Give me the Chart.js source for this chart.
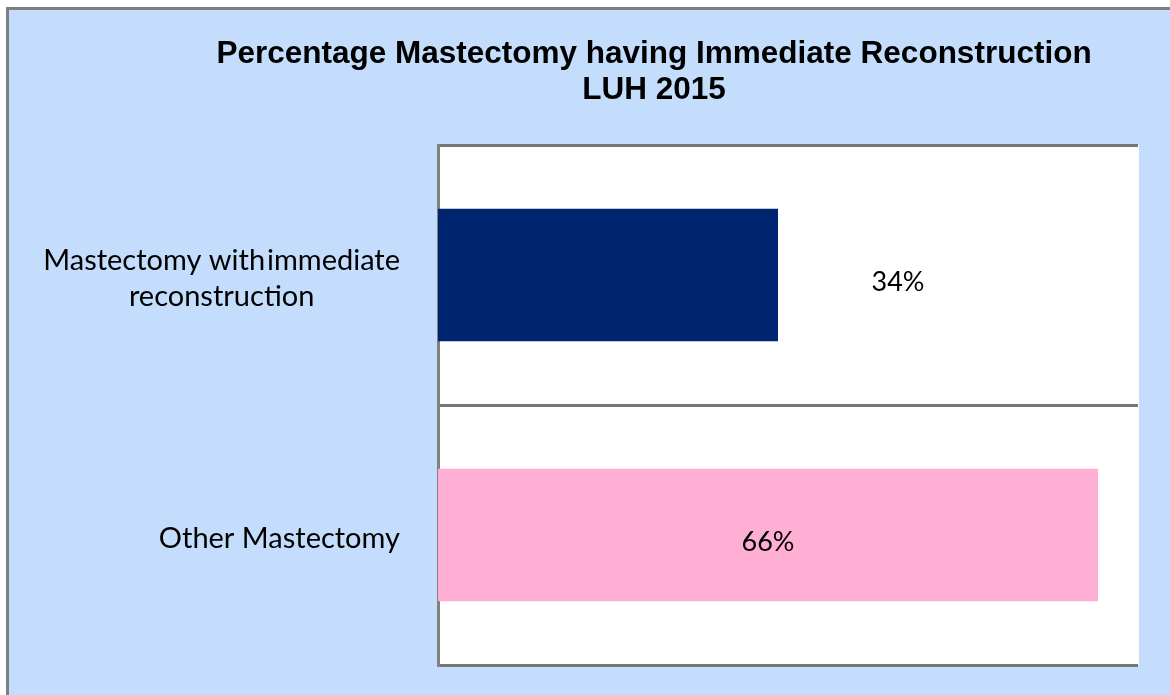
<!DOCTYPE html>
<html>
<head>
<meta charset="utf-8">
<script src="https://cdn.jsdelivr.net/npm/chart.js@4.4.1/dist/chart.umd.min.js"></script>
<style>
  html, body { margin: 0; padding: 0; background: #ffffff; overflow: hidden; }
  #frame { position: absolute; left: 6px; top: 7px; width: 1300px; height: 900px;
           background: #c4ddfc; border-left: 3px solid #7f7f7f; border-top: 3px solid #7f7f7f; }
  #wrap { position: absolute; left: 0; top: 0; width: 1170px; height: 695px; }
</style>
</head>
<body>
<div id="frame"></div>
<div id="wrap"><canvas id="c" width="1170" height="695"></canvas></div>
<script>
const titleLines = ['Percentage Mastectomy having Immediate Reconstruction', 'LUH 2015'];
const categories = [['Mastectomy with\u200Aimmediate', 'reconstruction'], ['Other Mastectomy']];
const values = [34, 66];
const valueLabels = ['34%', '66%'];
const barColors = ['#002570', '#ffafd4'];
const axisMax = 70;

const catFont = '29px Lato, "Open Sans", sans-serif';
const valFont = '27px Lato, "Open Sans", sans-serif';

const decor = {
  id: 'decor',
  beforeDraw(chart) {
    const { ctx, chartArea: a } = chart;
    ctx.save();
    ctx.fillStyle = '#ffffff';
    ctx.fillRect(a.left, a.top, a.right - a.left + 1, a.bottom - a.top);
    // title
    ctx.fillStyle = '#000000';
    ctx.font = 'bold 31.5px "Liberation Sans", Arial, sans-serif';
    ctx.textAlign = 'center';
    ctx.textBaseline = 'alphabetic';
    ctx.fillText(titleLines[0], 654, 63);
    ctx.fillText(titleLines[1], 654, 99);
    // category labels
    const ys = chart.scales.y;
    ctx.font = catFont;
    const rightEdge = a.left - 38;
    const lh = 36;
    categories.forEach((lab, i) => {
      const lines = Array.isArray(lab) ? lab : [lab];
      const w = Math.max(...lines.map(l => ctx.measureText(l).width));
      const cx = rightEdge - w / 2;
      const cy = ys.getPixelForValue(i);
      const n = lines.length;
      lines.forEach((l, j) => {
        ctx.textBaseline = 'middle';
        ctx.fillText(l, cx, cy + 4 + (j - (n - 1) / 2) * lh);
      });
    });
    ctx.restore();
  },
  afterDatasetsDraw(chart) {
    const meta = chart.getDatasetMeta(0);
    const ctx = chart.ctx;
    ctx.save();
    ctx.font = valFont;
    ctx.fillStyle = '#000000';
    ctx.textAlign = 'center';
    ctx.textBaseline = 'middle';
    meta.data.forEach((bar, i) => {
      let x;
      if (values[i] < axisMax / 2) {
        x = bar.x + 120; // label placed outside, to the right of the short bar
      } else {
        x = (bar.base + bar.x) / 2;
      }
      ctx.fillText(valueLabels[i], x, bar.y + 7);
    });
    ctx.restore();
  }
};

new Chart(document.getElementById('c'), {
  type: 'bar',
  data: {
    labels: categories,
    datasets: [{
      data: values,
      backgroundColor: barColors,
      borderWidth: 0,
      categoryPercentage: 1,
      barPercentage: 0.51
    }]
  },
  options: {
    indexAxis: 'y',
    responsive: false,
    animation: false,
    layout: { padding: { left: 438, right: 32, top: 145, bottom: 30 } },
    plugins: { legend: { display: false }, title: { display: false }, tooltip: { enabled: false } },
    scales: {
      x: { display: false, min: 0, max: axisMax },
      y: {
        afterFit(s) { s.width = 0; },
        ticks: { display: false },
        grid: { display: true, color: '#777777', lineWidth: 3, drawTicks: false, offset: true },
        border: { display: true, color: '#808080', width: 3 }
      }
    }
  },
  plugins: [decor]
});
</script>
</body>
</html>
